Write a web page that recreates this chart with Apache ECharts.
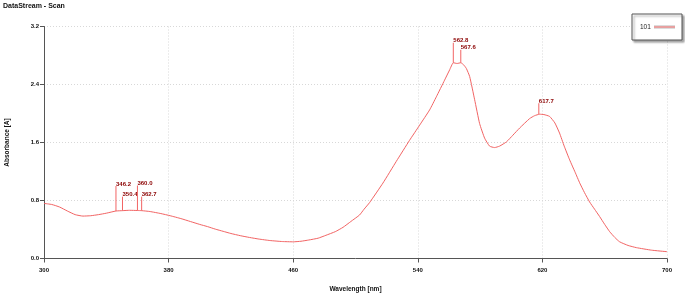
<!DOCTYPE html>
<html><head><meta charset="utf-8">
<script src="https://cdn.jsdelivr.net/npm/echarts@6/dist/echarts.min.js"></script>
<style>html,body{margin:0;padding:0;background:#fff}#c{width:685px;height:293px}</style>
</head><body><div id="c"></div>
<script>
// Spectrum data (wavelength nm, absorbance A)
const wavelengths = [300,305,310,315,320,325,330,335,340,346.2,350.4,355,360,362.7,368,375,381,388,394,400,405,410,415,420,426,432,438,445,453,460,465,470,476,481,487,492,497,502.6,505.5,509,517.6,526.2,534.7,541.2,547.6,551.9,557.2,560.4,562.8,565.2,567.6,569.5,571.2,573.3,576.5,579.7,582.9,586.1,589.3,592.5,597,601,605.4,611.8,615,618.2,621,624.6,628,631,634,637.5,641,644,647,650.3,653.5,656.7,660,663.2,666.5,669.6,675,680.3,690,700];
const absorbance = [0.76,0.745,0.71,0.655,0.605,0.585,0.59,0.605,0.625,0.655,0.66,0.665,0.662,0.66,0.648,0.62,0.59,0.55,0.51,0.47,0.44,0.405,0.375,0.345,0.315,0.29,0.268,0.248,0.234,0.23,0.238,0.255,0.28,0.32,0.37,0.43,0.51,0.60,0.68,0.77,1.04,1.34,1.63,1.84,2.05,2.23,2.46,2.60,2.70,2.69,2.70,2.67,2.62,2.51,2.19,1.86,1.66,1.55,1.53,1.55,1.61,1.70,1.80,1.93,1.97,1.99,1.985,1.96,1.87,1.73,1.55,1.36,1.19,1.04,0.91,0.78,0.68,0.58,0.47,0.37,0.29,0.23,0.18,0.15,0.115,0.094];
// Peak annotations
const peakWavelengths = [346.2,350.4,360.0,362.7,562.8,567.6,617.7];
const peakAbsorbance = [0.655,0.66,0.662,0.66,2.70,2.70,1.99];
const peakLabels = ['346.2','350.4','360.0','362.7','562.8','567.6','617.7'];
const xTicks = [300,380,460,540,620,700];
const yTicks = [0.0,0.8,1.6,2.4,3.2];
const seriesName = '101';

// styling (pixel lift of each peak label above the curve)
const peakLift = [25,14,25,14,20,13,11];

const lineColor = '#f26464';
const fontFam = '"Liberation Sans", Arial, sans-serif';
const chart = echarts.init(document.getElementById('c'), null, {renderer:'canvas'});
const spectrum = wavelengths.map((w,i)=>[w,absorbance[i]]);
const peaks = peakWavelengths.map((w,i)=>[w,peakAbsorbance[i],i]);

const axisCommon = {
  axisLine:{show:true,lineStyle:{color:'#555',width:1}},
  axisTick:{show:true,inside:false,length:4,lineStyle:{color:'#555'}},
  splitLine:{show:true,lineStyle:{color:'#d8d8d8',type:[1,2],width:1}},
  nameTextStyle:{fontSize:6.5,fontWeight:'bold',color:'#111',fontFamily:fontFam},
};

chart.setOption({
  animation:false,
  backgroundColor:'#fff',
  grid:{left:44,right:18,top:26.5,bottom:34.5,containLabel:false,outerBoundsMode:'none'},
  xAxis:Object.assign({},axisCommon,{
    type:'value',min:xTicks[0],max:xTicks[xTicks.length-1],interval:xTicks[1]-xTicks[0],
    name:'Wavelength [nm]',nameLocation:'middle',nameGap:27,
    axisLabel:{fontSize:6,fontWeight:'bold',color:'#111',margin:9,fontFamily:fontFam},
  }),
  yAxis:Object.assign({},axisCommon,{
    type:'value',min:yTicks[0],max:yTicks[yTicks.length-1],interval:yTicks[1]-yTicks[0],
    name:'Absorbance [A]',nameLocation:'middle',nameGap:33,nameRotate:90,
    axisLabel:{fontSize:6,fontWeight:'bold',color:'#111',margin:5,fontFamily:fontFam,formatter:v=>v.toFixed(1)},
  }),
  series:[
    {type:'line',name:seriesName,data:spectrum,showSymbol:false,smooth:0.15,
     lineStyle:{color:lineColor,width:1},itemStyle:{color:lineColor},z:3},
    {type:'custom',data:peaks,z:4,
     renderItem:(params,api)=>{
       const p = api.coord([api.value(0),api.value(1)]);
       const i = api.value(2);
       const top = p[1]-peakLift[i];
       return {type:'group',children:[
         {type:'line',shape:{x1:p[0],y1:p[1],x2:p[0],y2:top},style:{stroke:lineColor,lineWidth:1}},
         {type:'text',x:p[0],y:top+1,style:{text:peakLabels[i],fill:'#8b0000',font:'bold 6px '+fontFam,textAlign:'left',textVerticalAlign:'bottom'}}
       ]};
     }}
  ],
  graphic:[
    {type:'text',left:3,top:3,style:{text:'DataStream - Scan',fill:'#111',font:'bold 7px '+fontFam}},
    {type:'rect',shape:{x:632,y:14,width:50,height:26},style:{fill:'#fff',stroke:'#555',lineWidth:1,shadowBlur:2,shadowOffsetX:2,shadowOffsetY:2,shadowColor:'rgba(0,0,0,0.35)'},z:10},
    {type:'text',x:640,y:27,style:{text:seriesName,fill:'#222',font:'6.5px '+fontFam,textVerticalAlign:'middle'},z:11},
    {type:'rect',shape:{x:654,y:25,width:21,height:4},style:{fill:'#dcdcdc'},z:11},
    {type:'line',shape:{x1:654,y1:27,x2:675,y2:27},style:{stroke:lineColor,lineWidth:1},z:12}
  ]
});
</script></body></html>
